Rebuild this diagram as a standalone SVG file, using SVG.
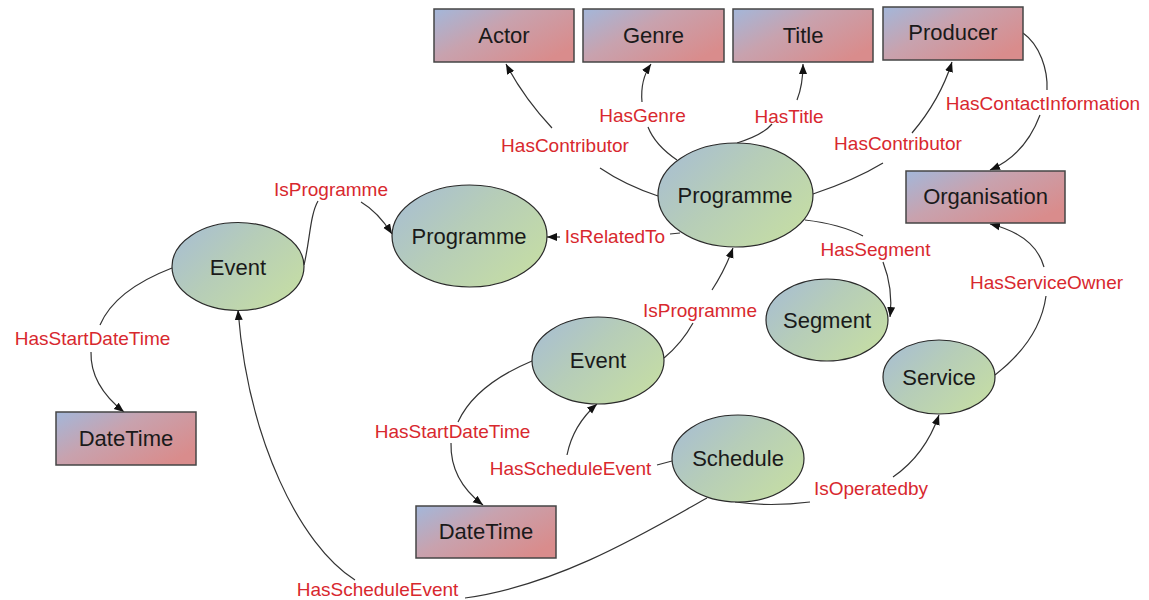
<svg xmlns="http://www.w3.org/2000/svg" width="1149" height="600" viewBox="0 0 1149 600">
<style>
.box{fill:url(#gBox);stroke:#454545;stroke-width:1.5}
.ell{fill:url(#gEll);stroke:#2a2a2a;stroke-width:1.2}
.nt{font-family:"Liberation Sans",Arial,sans-serif;font-size:22px;fill:#1a1a1a;text-anchor:middle}
.lb{font-family:"Liberation Sans",Arial,sans-serif;font-size:19px;fill:#d8282e;text-anchor:middle}
.c{fill:none;stroke:#333;stroke-width:1.2}
</style>
<defs>
<linearGradient id="gBox" x1="0" y1="0" x2="1" y2="0.7">
<stop offset="0" stop-color="#a3b7da"/>
<stop offset="0.45" stop-color="#c8a2ae"/>
<stop offset="1" stop-color="#d98c8c"/>
</linearGradient>
<linearGradient id="gEll" x1="0" y1="0" x2="1" y2="0.7">
<stop offset="0" stop-color="#a6bcd6"/>
<stop offset="0.5" stop-color="#b6cdb8"/>
<stop offset="1" stop-color="#c4dca6"/>
</linearGradient>
<marker id="arr" viewBox="0 0 10 10" refX="10" refY="5" markerWidth="10" markerHeight="10" markerUnits="userSpaceOnUse" orient="auto">
<path d="M0,1 L10,5 L0,9 z" fill="#111"/>
</marker>
</defs>
<rect width="1149" height="600" fill="#fff"/>

<g id="connectors">
<!-- HasContributor (Actor) -->
<path class="c" d="M658,196 Q625,185 600,168"/>
<path class="c" d="M552,128 Q524,98 506,64" marker-end="url(#arr)"/>
<!-- HasGenre -->
<path class="c" d="M677,160 Q655,145 648,127"/>
<path class="c" d="M642,102 Q640,80 651,64" marker-end="url(#arr)"/>
<!-- HasTitle -->
<path class="c" d="M737,143 Q763,135 772,124"/>
<path class="c" d="M797,100 Q803,85 803,64" marker-end="url(#arr)"/>
<!-- HasContributor (Producer) -->
<path class="c" d="M813,194 Q855,180 883,163"/>
<path class="c" d="M912,133 Q940,100 952,62" marker-end="url(#arr)"/>
<!-- HasContactInformation -->
<path class="c" d="M1023,33 C1040,45 1048,70 1047,90"/>
<path class="c" d="M1040,115 Q1025,155 990,170" marker-end="url(#arr)"/>
<!-- IsProgramme (left) -->
<path class="c" d="M304,265 C310,240 310,215 318,201"/>
<path class="c" d="M361,202 Q378,212 392,234" marker-end="url(#arr)"/>
<!-- IsRelatedTo -->
<path class="c" d="M680,233 L670,234"/>
<path class="c" d="M560,237 L547,237" marker-end="url(#arr)"/>
<!-- HasSegment -->
<path class="c" d="M805,220 Q840,224 863,236"/>
<path class="c" d="M883,262 C890,280 892,300 890,317" marker-end="url(#arr)"/>
<!-- HasServiceOwner -->
<path class="c" d="M995,375 Q1040,340 1046,296"/>
<path class="c" d="M1044,267 Q1035,235 990,224" marker-end="url(#arr)"/>
<!-- IsProgramme (middle) -->
<path class="c" d="M664,358 Q682,343 693,323"/>
<path class="c" d="M712,290 Q725,270 733,248" marker-end="url(#arr)"/>
<!-- HasStartDateTime (left) -->
<path class="c" d="M172,268 Q115,290 100,325"/>
<path class="c" d="M91,352 Q90,385 124,412" marker-end="url(#arr)"/>
<!-- HasStartDateTime (middle) -->
<path class="c" d="M532,361 Q475,385 458,422"/>
<path class="c" d="M451,443 Q450,480 483,505" marker-end="url(#arr)"/>
<!-- HasScheduleEvent (middle) -->
<path class="c" d="M672,461 L657,465"/>
<path class="c" d="M567,455 Q573,425 597,404" marker-end="url(#arr)"/>
<!-- IsOperatedby -->
<path class="c" d="M735,502 Q770,507 810,502"/>
<path class="c" d="M893,477 Q925,455 939,415" marker-end="url(#arr)"/>
<!-- HasScheduleEvent (bottom) -->
<path class="c" d="M707,498 C650,530 560,585 465,598"/>
<path class="c" d="M355,580 C300,545 248,440 238,310" marker-end="url(#arr)"/>
</g>

<g id="labels">
<text class="lb" x="565" y="151.7">HasContributor</text>
<text class="lb" x="642.5" y="121.7">HasGenre</text>
<text class="lb" x="789" y="122.7">HasTitle</text>
<text class="lb" x="898" y="149.7">HasContributor</text>
<text class="lb" x="1043" y="109.7">HasContactInformation</text>
<text class="lb" x="331" y="195.7">IsProgramme</text>
<text class="lb" x="615" y="242.7">IsRelatedTo</text>
<text class="lb" x="875.5" y="255.7">HasSegment</text>
<text class="lb" x="1046.5" y="288.7">HasServiceOwner</text>
<text class="lb" x="700" y="316.7">IsProgramme</text>
<text class="lb" x="92.5" y="344.7">HasStartDateTime</text>
<text class="lb" x="452.5" y="437.7">HasStartDateTime</text>
<text class="lb" x="570.5" y="474.7">HasScheduleEvent</text>
<text class="lb" x="871" y="494.7">IsOperatedby</text>
<text class="lb" x="377.5" y="595.7">HasScheduleEvent</text>
</g>

<g id="actor"><rect class="box" x="434" y="9" width="140" height="53"/><text class="nt" x="504" y="43">Actor</text></g>
<g id="genre"><rect class="box" x="583" y="9" width="141" height="53"/><text class="nt" x="653.5" y="43">Genre</text></g>
<g id="title"><rect class="box" x="733" y="9" width="140" height="53"/><text class="nt" x="803" y="43">Title</text></g>
<g id="producer"><rect class="box" x="883" y="7" width="140" height="53"/><text class="nt" x="953" y="40">Producer</text></g>
<g id="organisation"><rect class="box" x="906" y="171" width="159" height="52"/><text class="nt" x="985.5" y="204">Organisation</text></g>
<g id="datetime1"><rect class="box" x="56" y="412" width="140" height="53"/><text class="nt" x="126" y="446">DateTime</text></g>
<g id="datetime2"><rect class="box" x="416" y="506" width="140" height="52"/><text class="nt" x="486" y="539">DateTime</text></g>

<g id="programme-main"><ellipse class="ell" cx="735.5" cy="195" rx="77.5" ry="52"/><text class="nt" x="735" y="202.7">Programme</text></g>
<g id="programme-related"><ellipse class="ell" cx="469.5" cy="236" rx="77.5" ry="51"/><text class="nt" x="469" y="243.7">Programme</text></g>
<g id="event-left"><ellipse class="ell" cx="238" cy="266.5" rx="66" ry="44"/><text class="nt" x="238" y="274.7">Event</text></g>
<g id="event-middle"><ellipse class="ell" cx="598" cy="360.5" rx="66" ry="43.5"/><text class="nt" x="598" y="367.7">Event</text></g>
<g id="segment"><ellipse class="ell" cx="827" cy="320" rx="61" ry="41"/><text class="nt" x="827" y="327.7">Segment</text></g>
<g id="service"><ellipse class="ell" cx="939" cy="377" rx="56" ry="37"/><text class="nt" x="939" y="384.7">Service</text></g>
<g id="schedule"><ellipse class="ell" cx="738" cy="458.5" rx="66" ry="43.5"/><text class="nt" x="738" y="466.2">Schedule</text></g>
</svg>
